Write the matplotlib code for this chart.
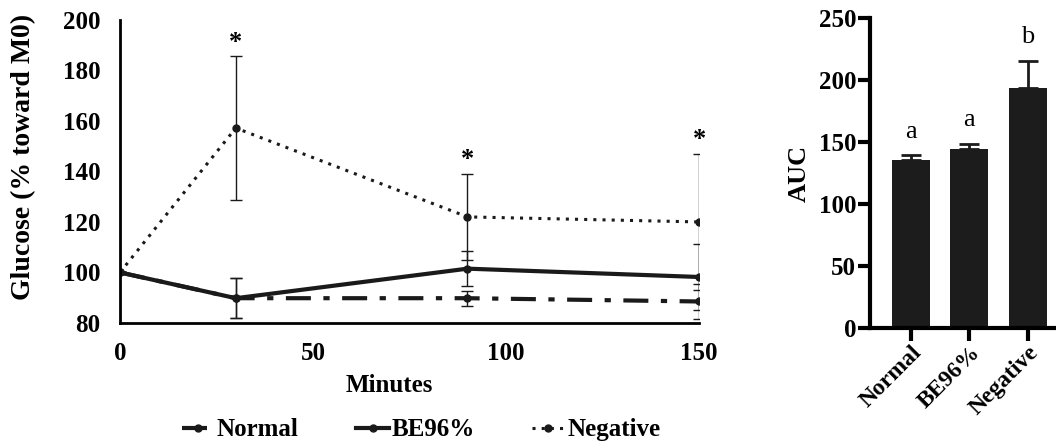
import numpy as np
import matplotlib.pyplot as plt
from matplotlib.lines import Line2D

plt.rcParams['font.family'] = ['Liberation Serif', 'DejaVu Serif']
plt.rcParams['font.weight'] = 'bold'

minutes = [0, 30, 90, 150]
normal = [100, 89.8, 89.8, 88.5]
normal_err = [0, 8, 3, 7]
be96 = [100, 89.8, 101.5, 98.2]
be96_err = [0, 8, 7, 13]
negative = [100, 157.2, 122, 120]
negative_err = [0, 28.5, 17, 27]
star_x = [30, 90, 150]

groups = ['Normal', 'BE96%', 'Negative']
auc = [135.5, 144.5, 193.5]
auc_err = [4, 4, 22]
letters = ['a', 'a', 'b']

fig = plt.figure(figsize=(10.56, 4.43), dpi=100)

styles = {
    'Normal': dict(lw=3, ls=(0, (6, 3, 1.5, 3))),
    'BE96%': dict(lw=3, ls='-'),
    'Negative': dict(lw=2.2, ls=(0, (1, 2))),
}

# left: glucose curve
ax = fig.add_axes([0.1136, 0.271, 0.5485, 0.684])
for name, y, e in [('Normal', normal, normal_err), ('BE96%', be96, be96_err),
                   ('Negative', negative, negative_err)]:
    ax.errorbar(minutes, y, yerr=e, color='#1a1a1a', marker='o', ms=5,
                ecolor='#1a1a1a', elinewidth=1, capsize=4, capthick=1, **styles[name])
for x in star_x:
    i = minutes.index(x)
    ax.text(x, negative[i] + negative_err[i] + 1, '*', ha='center', va='bottom',
            fontsize=19, fontweight='bold')

ax.set_xlim(0, 150)
ax.set_ylim(80, 200)
ax.set_xticks([0, 50, 100, 150])
ax.set_yticks([80, 100, 120, 140, 160, 180, 200])
ax.tick_params(length=0, labelsize=18, pad=14)
ax.spines[['top', 'right']].set_visible(False)
for s in ['left', 'bottom']:
    ax.spines[s].set_linewidth(2)
ax.set_xlabel('Minutes', fontsize=18, fontweight='bold')
ax.xaxis.set_label_coords(0.465, -0.17)
ax.set_ylabel('Glucose (% toward M0)', fontsize=20, fontweight='bold')
ax.yaxis.set_label_coords(-0.145, 0.548)
handles = [Line2D([], [], color='#1a1a1a', marker='o', ms=5, **styles[n]) for n in groups]
ax.legend(handles, groups, loc='center', bbox_to_anchor=(0.52, -0.353), ncol=3, frameon=False,
          fontsize=18, handlelength=1.3, handletextpad=0.1, columnspacing=2.3)

# right: AUC bars
bx = fig.add_axes([0.824, 0.2596, 0.188, 0.6994])
pos = np.arange(len(groups))
bx.bar(pos, auc, width=0.65, color='#1c1c1c', yerr=[[0] * 3, auc_err],
       error_kw=dict(ecolor='#1c1c1c', elinewidth=2, capsize=7, capthick=2))
for p, v, e, t in zip(pos, auc, auc_err, letters):
    bx.text(p, v + e + 19, t, ha='center', va='center', fontsize=19, fontweight='normal')
bx.set_xlim(-0.7, 2.7)
bx.set_ylim(0, 250)
bx.set_yticks([0, 50, 100, 150, 200, 250])
bx.set_xticks(pos)
bx.set_xticklabels(groups, rotation=45, ha='right', rotation_mode='anchor')
bx.tick_params(length=9, width=3, labelsize=17, pad=1)
bx.tick_params(axis='y', labelsize=18)
bx.spines[['top', 'right']].set_visible(False)
for s in ['left', 'bottom']:
    bx.spines[s].set_linewidth(3)
bx.set_ylabel('AUC', fontsize=19, fontweight='bold', labelpad=6)

fig.savefig('out.png', dpi=100)
